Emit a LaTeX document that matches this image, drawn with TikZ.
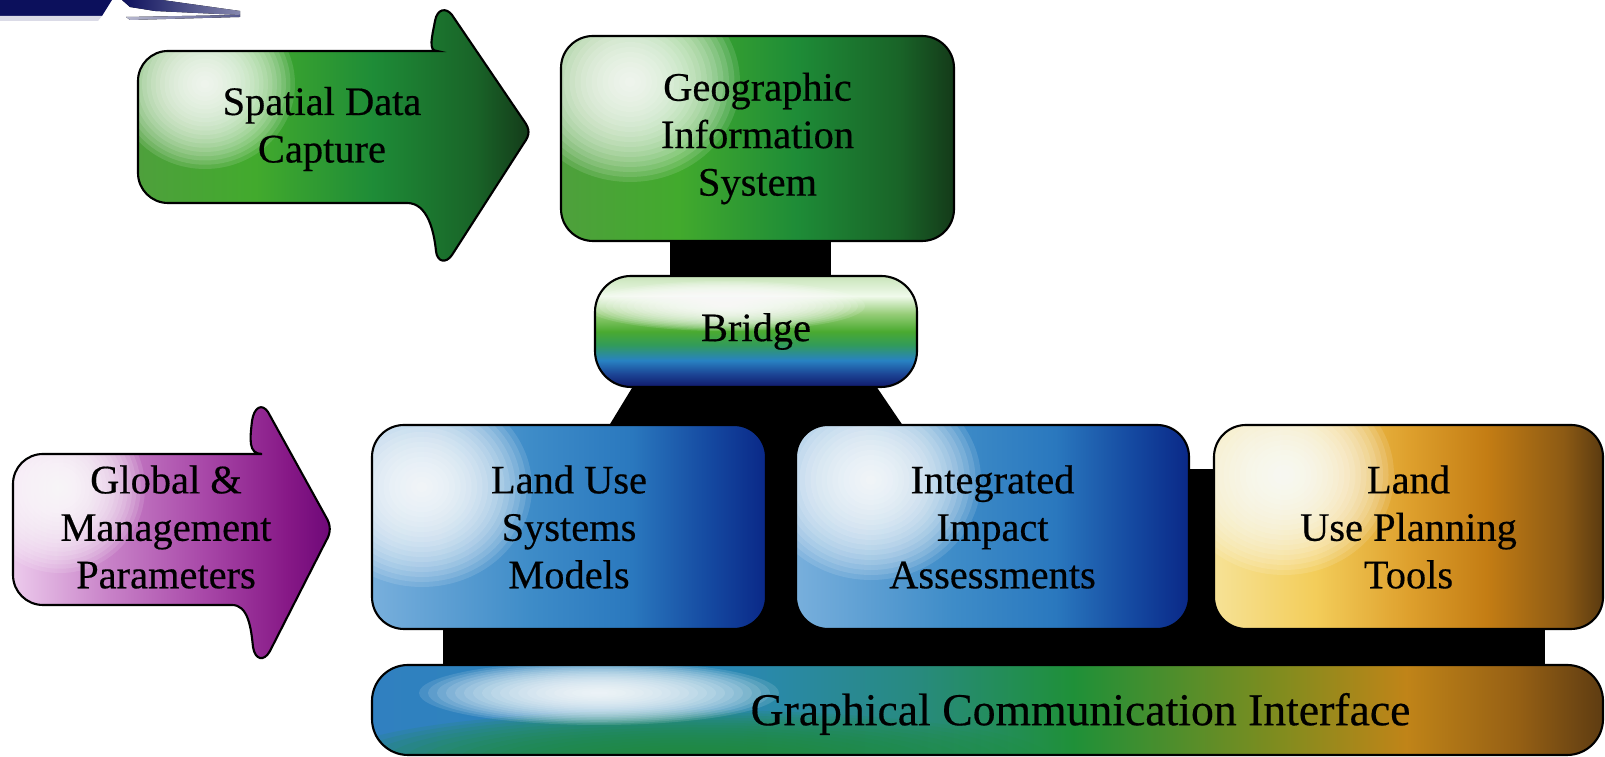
\documentclass[tikz,border=0pt]{standalone}
\usepackage{fontspec}
\setmainfont{Liberation Serif}
\newfontfamily\labelfont{Liberation Serif}[FakeBold=0.4]
\usepackage{tikz}
\usetikzlibrary{calc,backgrounds}
\usepackage{xcolor}
% green (GIS and data capture)
\definecolor{gisA}{RGB}{78,160,60}
\definecolor{gisB}{RGB}{66,170,45}
\definecolor{gisC}{RGB}{30,140,55}
\definecolor{gisD}{RGB}{25,100,40}
\definecolor{gisE}{RGB}{20,58,25}
% blue (model boxes)
\definecolor{blueA}{RGB}{120,175,220}
\definecolor{blueB}{RGB}{62,140,200}
\definecolor{blueC}{RGB}{42,120,190}
\definecolor{blueD}{RGB}{20,72,160}
\definecolor{blueE}{RGB}{10,40,135}
% gold (planning tools)
\definecolor{goldA}{RGB}{246,226,150}
\definecolor{goldB}{RGB}{243,205,90}
\definecolor{goldC}{RGB}{222,160,45}
\definecolor{goldD}{RGB}{196,125,20}
\definecolor{goldE}{RGB}{140,90,20}
\definecolor{goldF}{RGB}{90,58,16}
% purple (parameters)
\definecolor{purpA}{RGB}{236,202,236}
\definecolor{purpB}{RGB}{200,130,200}
\definecolor{purpC}{RGB}{168,72,168}
\definecolor{purpD}{RGB}{135,25,135}
\definecolor{purpE}{RGB}{110,8,120}
% bridge, bottom to top
\definecolor{brA}{RGB}{16,24,106}
\definecolor{brB}{RGB}{28,70,150}
\definecolor{brC}{RGB}{40,130,195}
\definecolor{brD}{RGB}{50,155,90}
\definecolor{brE}{RGB}{74,170,48}
\definecolor{brF}{RGB}{150,205,120}
\definecolor{brG}{RGB}{240,250,235}
\definecolor{brH}{RGB}{200,228,185}
% interface bar, left to right
\definecolor{gciA}{RGB}{48,128,192}
\definecolor{gciB}{RGB}{42,136,184}
\definecolor{gciC}{RGB}{40,138,128}
\definecolor{gciD}{RGB}{31,144,56}
\definecolor{gciE}{RGB}{130,140,30}
\definecolor{gciF}{RGB}{192,132,24}
\definecolor{gciG}{RGB}{150,96,20}
\definecolor{gciH}{RGB}{94,60,18}
\definecolor{logonavy}{RGB}{12,16,92}

\pgfdeclarehorizontalshading{greenfill}{100bp}{color(0bp)=(gisA); color(25bp)=(gisA); color(40bp)=(gisB); color(55bp)=(gisC); color(68bp)=(gisD); color(75bp)=(gisE); color(100bp)=(gisE)}
\pgfdeclarehorizontalshading{bluefill}{100bp}{color(0bp)=(blueA); color(25bp)=(blueA); color(45bp)=(blueB); color(58bp)=(blueC); color(68bp)=(blueD); color(75bp)=(blueE); color(100bp)=(blueE)}
\pgfdeclarehorizontalshading{goldfill}{100bp}{color(0bp)=(goldA); color(25bp)=(goldA); color(38bp)=(goldB); color(50bp)=(goldC); color(60bp)=(goldD); color(70bp)=(goldE); color(75bp)=(goldF); color(100bp)=(goldF)}
\pgfdeclarehorizontalshading{purplefill}{100bp}{color(0bp)=(purpA); color(25bp)=(purpA); color(40bp)=(purpB); color(55bp)=(purpC); color(68bp)=(purpD); color(75bp)=(purpE); color(100bp)=(purpE)}
\pgfdeclareverticalshading{bridgefill}{100bp}{color(0bp)=(brA); color(25bp)=(brA); color(31bp)=(brB); color(37bp)=(brC); color(44bp)=(brD); color(50bp)=(brE); color(58bp)=(brF); color(66bp)=(brG); color(75bp)=(brH); color(100bp)=(brH)}
\pgfdeclarehorizontalshading{interfacefill}{100bp}{color(0bp)=(gciA); color(25bp)=(gciA); color(39bp)=(gciB); color(47bp)=(gciC); color(53.5bp)=(gciD); color(62bp)=(gciE); color(67bp)=(gciF); color(71.5bp)=(gciG); color(75bp)=(gciH); color(100bp)=(gciH)}

% soft spot: colour, offset from top left, x radius, y radius
\newcommand{\glowspot}[4]{%
  \foreach \k in {1,...,20}{
    \fill[#1, opacity=0.12]
      ($(path picture bounding box.north west)+(#2)$) ellipse [x radius=\k/20*#3, y radius=\k/20*#4];
  }}

\tikzset{
  % rounded panel
  panel/.style={rectangle, rounded corners=0.32cm, draw=black, line width=0.6pt,
                align=center, inner sep=2pt, font=\labelfont\fontsize{11.5}{13.5}\selectfont},
  % white highlight near the top left
  glow/.style n args={4}{path picture={\glowspot{white}{#1,#2}{#3}{#4}}},
  % fat input arrow
  inarrow/.style={draw=black, line width=0.6pt},
  % text on an arrow
  arrowtext/.style={align=center, font=\labelfont\fontsize{11.5}{13.5}\selectfont},
  % black supporting plate
  plate/.style={fill=black},
}

\begin{document}
\begin{tikzpicture}
  \useasboundingbox (0,0) rectangle (16.05,7.57);

  % bit of a logo at the top left
  \fill[logonavy] (0,7.57) -- (1.12,7.57) -- (1.02,7.41) -- (0,7.41) -- cycle;
  \fill[logonavy!15] (0,7.41) -- (1.02,7.41) -- (0.98,7.36) -- (0,7.36) -- cycle;
  \fill[left color=logonavy, right color=logonavy!50] (1.22,7.57) -- (1.62,7.57) -- (2.40,7.46)
    -- (2.40,7.42) -- (1.55,7.46) -- (1.30,7.50) -- cycle;
  \fill[left color=logonavy!30, right color=logonavy!70] (1.26,7.40) -- (2.40,7.42) -- (2.40,7.40) -- (1.30,7.37) -- cycle;

  % boxes
  \node[panel, shading=greenfill, glow={0.69}{-0.46}{1.1}{1.0},
        minimum width=3.93cm, minimum height=2.05cm] (gis) at (7.575,6.185)
        {Geographic\\Information\\System};
  \node[panel, rounded corners=0.36cm, shading=bridgefill, glow={1.3}{-0.3}{1.4}{0.25},
        minimum width=3.22cm, minimum height=1.11cm] (bridge) at (7.56,4.255) {Bridge};
  \node[panel, shading=bluefill, glow={0.5}{-0.62}{1.1}{1.0},
        minimum width=3.94cm, minimum height=2.04cm] (lusm) at (5.69,2.30)
        {Land Use\\Systems\\Models};
  \node[panel, shading=bluefill, glow={0.75}{-0.55}{1.1}{1.0},
        minimum width=3.93cm, minimum height=2.04cm] (iia) at (9.925,2.30)
        {Integrated\\Impact\\Assessments};
  \node[panel, shading=goldfill, glow={0.7}{-0.5}{1.1}{1.0},
        minimum width=3.89cm, minimum height=2.04cm] (lupt) at (14.085,2.30)
        {Land\\Use Planning\\Tools};
  \node[panel, rounded corners=0.36cm, shading=interfacefill,
        path picture={\glowspot{gciD}{3.2,-0.95}{3.6}{0.5}\glowspot{white}{2.27,-0.28}{1.8}{0.32}},
        minimum width=12.31cm, minimum height=0.9cm] (gci) at (9.875,0.47) {};
  \node[font=\labelfont\fontsize{13}{15}\selectfont] (gcitext) at ($(gci.center)+(0.93,-0.04)$)
        {Graphical Communication Interface};

  % plates behind the boxes
  \begin{scope}[on background layer]
    \fill[plate] ($(gis.south)+(-0.875,0.1)$) rectangle ($(bridge.north)+(0.75,-0.1)$);
    \fill[plate] ($(bridge.south)+(-1.21,0.05)$) -- ($(bridge.south)+(1.18,0.05)$)
      -- ($(bridge.south)+(1.77,-0.82)$) -- ($(bridge.south)+(-1.74,-0.82)$) -- cycle;
    \fill[plate] ($(lusm.south west)+(0.72,1.61)$) rectangle ($(gci.north east)+(-0.59,-0.05)$);
  \end{scope}

  % spatial data capture arrow
  \draw[inarrow, shading=greenfill, glow={0.67}{-0.77}{0.9}{0.85}]
    (4.07,5.54) [rounded corners=0.3cm] -- (1.38,5.54) -- (1.38,7.06) -- (4.07,7.06)
    [sharp corners] .. controls (4.28,7.06) and (4.32,7.20) .. (4.35,7.36)
    .. controls (4.37,7.48) and (4.46,7.50) .. (4.52,7.42)
    -- (5.24,6.36) .. controls (5.30,6.28) and (5.30,6.22) .. (5.24,6.14)
    -- (4.52,5.02) .. controls (4.46,4.93) and (4.37,4.95) .. (4.36,5.06)
    .. controls (4.34,5.25) and (4.28,5.54) .. (4.07,5.54) -- cycle;
  \node[arrowtext] (sdc) at (3.22,6.28) {Spatial Data\\Capture};

  % global and management parameters arrow
  \draw[inarrow, shading=purplefill, glow={0.47}{-0.85}{0.85}{0.85}]
    (2.32,1.52) [rounded corners=0.3cm] -- (0.13,1.52) -- (0.13,3.03) -- (2.32,3.03)
    [sharp corners] .. controls (2.48,3.03) and (2.50,3.18) .. (2.52,3.36)
    .. controls (2.54,3.50) and (2.62,3.54) .. (2.68,3.45)
    -- (3.26,2.40) .. controls (3.31,2.32) and (3.31,2.24) .. (3.26,2.16)
    -- (2.70,1.06) .. controls (2.64,0.95) and (2.55,0.97) .. (2.53,1.10)
    .. controls (2.51,1.30) and (2.48,1.52) .. (2.32,1.52) -- cycle;
  \node[arrowtext] (gmp) at (1.66,2.30) {Global \&\\Management\\Parameters};
\end{tikzpicture}
\end{document}
